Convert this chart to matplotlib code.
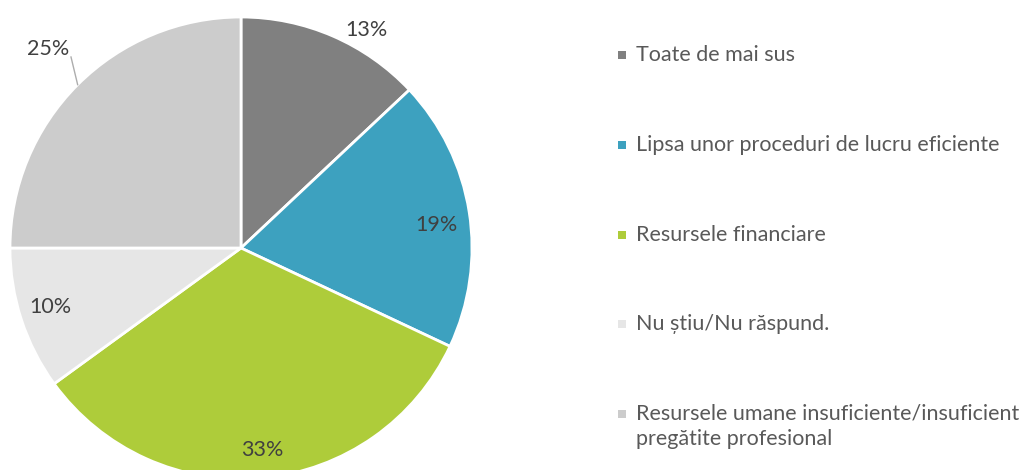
import matplotlib.pyplot as plt
from matplotlib.patches import Rectangle
import numpy as np

categories = [
    "Toate de mai sus",
    "Lipsa unor proceduri de lucru eficiente",
    "Resursele financiare",
    "Nu știu/Nu răspund.",
    "Resursele umane insuficiente/insuficient\npregătite profesional",
]
shares = [13, 19, 33, 10, 25]
colors = ["#808080", "#3DA1BF", "#AECC3A", "#E6E6E6", "#CCCCCC"]

W, H = 1034, 470
plt.rcParams["font.family"] = ["Lato", "DejaVu Sans"]

fig = plt.figure(figsize=(W / 100, H / 100), dpi=100)
ax = fig.add_axes([0, 0, 1, 1])

cx, cy, rad = 241, H - 248, 231
wedges, _ = ax.pie(
    shares,
    colors=colors,
    startangle=90,
    counterclock=False,
    center=(cx, cy),
    radius=rad,
    frame=True,
    wedgeprops=dict(edgecolor="white", linewidth=2),
)
ax.set_xlim(0, W)
ax.set_ylim(0, H)
ax.set_aspect("equal")
ax.axis("off")

# label placement: (radial factor, angle tweak in degrees)
label_pos = [(1.09, -6.5), (0.85, -2.3), (0.88, 0.6), (0.865, -0.8), (1.2, -1.0)]
for w, v, (rf, dth) in zip(wedges, shares, label_pos):
    mid = np.deg2rad((w.theta1 + w.theta2) / 2 + dth)
    x = cx + rad * rf * np.cos(mid)
    y = cy + rad * rf * np.sin(mid)
    ax.text(x, y, f"{v}%", ha="center", va="center", fontsize=15.5, color="#404040")

# leader line for the outside label on the last slice
w = wedges[4]
mid = np.deg2rad((w.theta1 + w.theta2) / 2)
ax.plot([cx + rad * np.cos(mid), 71], [cy + rad * np.sin(mid), H - 57],
        color="#ADADAD", linewidth=1.0)

# legend
row_y = [55, 145, 235, 324, 414]
for lab, col, ry in zip(categories, colors, row_y):
    ax.add_patch(Rectangle((618, H - ry - 4), 8, 8, facecolor=col, edgecolor="none"))
    ax.text(636, H - ry + 10, lab, ha="left", va="top", fontsize=15.5,
            color="#595959", linespacing=1.32)

fig.savefig("out.png", dpi=100)
